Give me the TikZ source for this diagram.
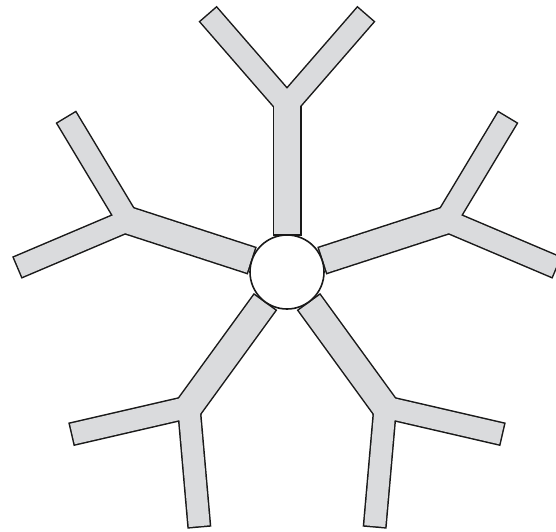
\documentclass[tikz,border=0pt]{standalone}
\usetikzlibrary{calc}
\definecolor{armgray}{RGB}{218,219,221}
\definecolor{ink}{RGB}{25,25,25}
\tikzset{
  stemout/.style={line width=29pt, draw=ink, line cap=butt},
  stemin/.style={line width=26pt, draw=armgray, line cap=butt},
  forkout/.style={line width=24pt, draw=ink, line cap=butt, line join=miter},
  forkin/.style={line width=21pt, draw=armgray, line cap=butt, line join=miter},
  hubstyle/.style={circle, draw=ink, fill=white, line width=1.6pt, minimum size=74pt, inner sep=0pt}
}
\begin{document}
\begin{tikzpicture}[x=1pt,y=1pt]
\useasboundingbox (0,-531) rectangle (556,0);
\coordinate (C) at (287,-272);
\foreach \t in {90,162,234,306,18}{
  \path (C) ++(\t:36.5) coordinate (s0);
  \path (C) ++(\t:38) coordinate (s1);
  \path (C) ++(\t:167) coordinate (F);
  \path (F) ++(\t+41:121) coordinate (a0);
  \path (F) ++(\t+41:119.5) coordinate (a1);
  \path (F) ++(\t-41:121) coordinate (b0);
  \path (F) ++(\t-41:119.5) coordinate (b1);
  \draw[stemout] (s0) -- (F);
  \draw[forkout] (a0) -- (F) -- (b0);
  \draw[stemin] (s1) -- (F);
  \draw[forkin] (a1) -- (F) -- (b1);
}
\node[hubstyle] (hub) at (C) {};
\end{tikzpicture}
\end{document}
